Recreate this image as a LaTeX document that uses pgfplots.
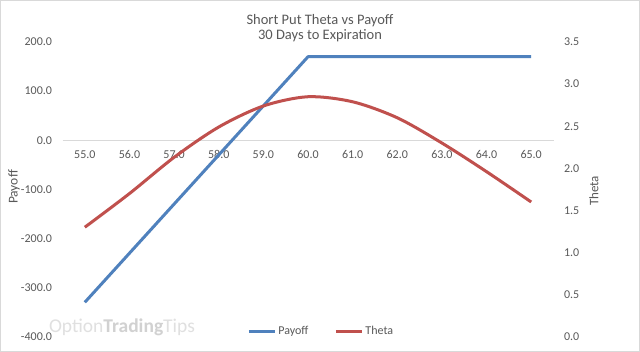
\documentclass[border=0pt]{standalone}
\usepackage{pgfplots}
\pgfplotsset{compat=1.18}
\usepackage{fontspec}
\setmainfont{Carlito}
\definecolor{pblue}{HTML}{4F81BD}
\definecolor{tred}{HTML}{C0504D}
\definecolor{txt}{HTML}{595959}
\definecolor{zline}{HTML}{D9D9D9}
\pgfplotstableread{
x payoff
55 -330
56 -230
57 -130
58 -30
59 70
60 170
61 170
62 170
63 170
64 170
65 170
}\payoffdata
\pgfplotstableread{
x theta
55 1.30
56 1.70
57 2.13
58 2.49
59 2.74
60 2.85
61 2.79
62 2.60
63 2.30
64 1.96
65 1.60
}\thetadata
\begin{document}
\begin{tikzpicture}
\fill[white] (0,0) rectangle (640bp,352bp);
\node[text=black!12, font=\fontsize{19.5bp}{22bp}\selectfont, anchor=center] at (122bp,25bp) {Option\textbf{\color{black!18}Trading}Tips};
\begin{axis}[
  at={(62.5bp,15.3bp)}, anchor=south west,
  scale only axis, width=491bp, height=294.7bp,
  xmin=54.5, xmax=65.5, ymin=-400, ymax=200,
  axis x line=middle, axis y line=left,
  x axis line style={draw=zline, line width=0.8bp, -},
  y axis line style={draw=none},
  xtick={55,56,...,65}, ytick={-400,-300,...,200},
  major tick length=0pt,
  xticklabel={\pgfmathprintnumber[fixed,fixed zerofill,precision=1]{\tick}},
  yticklabel={\pgfmathprintnumber[fixed,fixed zerofill,precision=1]{\tick}},
  /pgf/number format/assume math mode=true,
  tick label style={font=\fontsize{12bp}{14bp}\selectfont, text=txt},
  x tick label style={anchor=north, yshift=-7bp},
  y tick label style={anchor=east, xshift=-7bp},
  clip=false,
]
\addplot[pblue, line width=3bp, line join=round] table[x=x, y=payoff] {\payoffdata};
\end{axis}
\begin{axis}[
  at={(62.5bp,15.3bp)}, anchor=south west,
  scale only axis, width=491bp, height=294.7bp,
  xmin=54.5, xmax=65.5, ymin=0, ymax=3.5,
  axis x line=none, axis y line*=right,
  y axis line style={draw=none},
  ytick={0,0.5,...,3.5},
  major tick length=0pt,
  yticklabel={\pgfmathprintnumber[fixed,fixed zerofill,precision=1]{\tick}},
  /pgf/number format/assume math mode=true,
  tick label style={font=\fontsize{12bp}{14bp}\selectfont, text=txt},
  y tick label style={anchor=west, xshift=7bp},
  legend style={at={(0.527,0.019)}, anchor=center, draw=none, fill=none,
    legend columns=2, font=\fontsize{12bp}{14bp}\selectfont, text=txt,
    /tikz/every even column/.append style={column sep=24bp},
    inner sep=0pt},
  legend image code/.code={\draw[#1, line width=3bp] (0bp,0bp) -- (26bp,0bp);},
  legend cell align=left,
  clip=false,
]
\addlegendimage{pblue, line width=3bp}
\addlegendentry{Payoff}
\addplot[tred, line width=3bp, smooth, tension=0.5] table[x=x, y=theta] {\thetadata};
\addlegendentry{Theta}
\end{axis}
\node[text=txt, font=\fontsize{13.5bp}{15bp}\selectfont, rotate=90] at (14bp,165bp) {Payoff};
\node[text=txt, font=\fontsize{13bp}{15bp}\selectfont, rotate=90] at (594bp,161bp) {Theta};
\node[text=txt, font=\fontsize{14.5bp}{15.7bp}\selectfont, align=center] at (320bp,324bp) {Short Put Theta vs Payoff\\30 Days to Expiration};
\draw[zline, line width=1bp] (0.5bp,0.5bp) rectangle (639.5bp,351.5bp);
\pgfresetboundingbox
\useasboundingbox (0,0) rectangle (640bp,352bp);
\end{tikzpicture}
\end{document}
